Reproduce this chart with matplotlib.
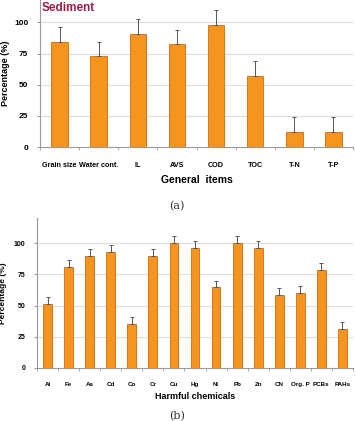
import matplotlib.pyplot as plt
import numpy as np

plt.rcParams['font.family'] = ['Liberation Sans', 'DejaVu Sans']

# (a) general items
gen_items = ['Grain size', 'Water cont.', 'IL', 'AVS', 'COD', 'TOC', 'T-N', 'T-P']
gen_vals = [84.5, 73, 91, 82.3, 98.3, 57, 11.8, 11.8]
gen_err = [12, 11.5, 11.5, 11.7, 11.5, 12, 12, 12]

# (b) harmful chemicals
chem_items = ['Al', 'Fe', 'As', 'Cd', 'Co', 'Cr', 'Cu', 'Hg', 'Ni', 'Pb', 'Zn',
              'CN', 'Org. P', 'PCBs', 'PAHs']
chem_vals = [51, 80.6, 89.6, 93, 35.3, 89.6, 100, 95.8, 64.5, 100, 95.8,
             58.2, 60, 78.5, 31]
chem_err = [5.6, 5.5, 5.5, 5.8, 5.7, 5.5, 5.8, 6, 5.5, 5.8, 6, 5.6, 5.8, 5.3, 6]

yticks = [0, 25, 50, 75, 100]

bar_color = '#F7941E'
edge_color = '#D46A0C'
W, H = 355, 421

fig = plt.figure(figsize=(W / 100, H / 100), dpi=100)


def draw(ax, items, vals, errs, ymax, xfs, yfs, pad):
    x = np.arange(len(items))
    ax.bar(x, vals, width=0.42, color=bar_color, edgecolor=edge_color,
           linewidth=0.6, zorder=3)
    ax.errorbar(x, vals, yerr=[np.zeros(len(errs)), errs], fmt='none',
                ecolor='#555555', elinewidth=0.7, capsize=1.5, capthick=0.7, zorder=4)
    ax.set_xlim(-0.5, len(items) - 0.5)
    ax.set_ylim(0, ymax)
    ax.set_yticks(yticks)
    ax.set_yticklabels([str(v) for v in yticks], fontsize=yfs, fontweight='bold')
    ax.set_xticks(x)
    ax.set_xticklabels(items, fontsize=xfs, fontweight='bold')
    ax.set_xticks(np.arange(len(items) + 1) - 0.5, minor=True)
    ax.tick_params(axis='x', which='major', length=0, pad=pad)
    ax.tick_params(axis='x', which='minor', length=2.5, color='#999999')
    ax.tick_params(axis='y', length=2.5, color='#999999', pad=6)
    for v in yticks[1:]:
        ax.axhline(v, color='#dddddd', linewidth=0.8, zorder=1)
    for s in ['top', 'right']:
        ax.spines[s].set_visible(False)
    for s in ['left', 'bottom']:
        ax.spines[s].set_color('#999999')
        ax.spines[s].set_linewidth(0.8)


ax1 = fig.add_axes([40 / W, 1 - 147 / H, 313 / W, 147 / H])
draw(ax1, gen_items, gen_vals, gen_err, 118, 5.2, 6, 11)
ax1.set_xlabel('General  items', fontsize=7.5, fontweight='bold', labelpad=4)
ax1.set_ylabel('Percentage (%)', fontsize=6.5, fontweight='bold', labelpad=3)
ax1.text(42 / W, 1 - 8 / H, 'Sediment', transform=fig.transFigure, fontsize=8.5,
         fontweight='bold', color='#9B1B4A', va='center', ha='left')

fig.text(177 / W, 1 - 206 / H, '(a)', fontsize=8, family='DejaVu Serif',
         ha='center', va='center', color='#333333')

ax2 = fig.add_axes([37 / W, 1 - 368 / H, 316 / W, 150 / H])
draw(ax2, chem_items, chem_vals, chem_err, 120, 4.5, 5, 10)
ax2.set_xlabel('Harmful chemicals', fontsize=6.5, fontweight='bold', labelpad=4)
ax2.set_ylabel('Percentage (%)', fontsize=6, fontweight='bold', labelpad=5)

fig.text(177 / W, 1 - 416 / H, '(b)', fontsize=8, family='DejaVu Serif',
         ha='center', va='center', color='#333333')

fig.savefig('out.png', dpi=100)
